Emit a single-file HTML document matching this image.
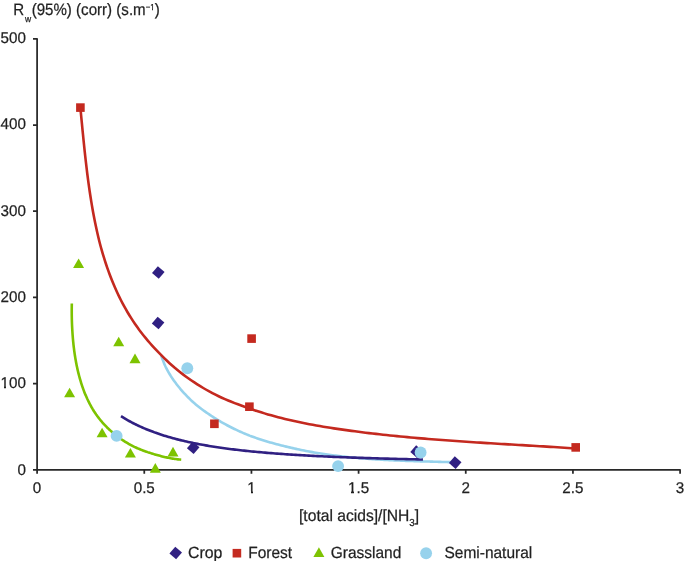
<!DOCTYPE html><html><head><meta charset="utf-8"><style>html,body{margin:0;padding:0;background:#fff;}svg{display:block;}text{font-family:"Liberation Sans",sans-serif;fill:#1e1e1e;text-rendering:geometricPrecision;will-change:transform;stroke:#1e1e1e;stroke-width:0.25px;}</style></head><body>
<svg width="685" height="561" viewBox="0 0 685 561">
<rect width="685" height="561" fill="#fff"/>
<g opacity="0.99">
<text transform="translate(13.20 14.60) scale(0.915 1)" font-size="16.50" text-anchor="start">R<tspan font-size="9.30" dx="1.00" dy="6.90">w</tspan><tspan dx="0.50" dy="-6.90">(95%) (corr) (s.m</tspan><tspan font-size="8.60" dy="-4.30">&#8722;1</tspan><tspan dy="4.30">)</tspan></text>
<path d="M33.00,38.80 H37.10 V469.80 H680.09 V473.70" stroke="#262626" stroke-width="1.75" fill="none" stroke-linecap="butt" stroke-linejoin="round"/>
<path d="M33.00,469.80 H37.10 M33.00,383.60 H37.10 M33.00,297.40 H37.10 M33.00,211.20 H37.10 M33.00,125.00 H37.10 M37.10,469.80 V473.70 M144.27,469.80 V473.70 M251.43,469.80 V473.70 M358.60,469.80 V473.70 M465.76,469.80 V473.70 M572.93,469.80 V473.70 " stroke="#262626" stroke-width="1.75" fill="none" stroke-linecap="butt"/>
<text transform="translate(25.90 475.00) scale(0.980 1)" font-size="15.50" text-anchor="end">0</text>
<text transform="translate(25.90 388.00) scale(0.980 1)" font-size="15.50" text-anchor="end">100</text>
<text transform="translate(25.90 302.00) scale(0.980 1)" font-size="15.50" text-anchor="end">200</text>
<text transform="translate(25.90 216.00) scale(0.980 1)" font-size="15.50" text-anchor="end">300</text>
<text transform="translate(25.90 129.00) scale(0.980 1)" font-size="15.50" text-anchor="end">400</text>
<text transform="translate(25.90 43.00) scale(0.980 1)" font-size="15.50" text-anchor="end">500</text>
<text transform="translate(37.10 493.00) scale(0.980 1)" font-size="15.50" text-anchor="middle">0</text>
<text transform="translate(144.27 493.00) scale(0.980 1)" font-size="15.50" text-anchor="middle">0.5</text>
<text transform="translate(251.43 493.00) scale(0.980 1)" font-size="15.50" text-anchor="middle">1</text>
<text transform="translate(358.60 493.00) scale(0.980 1)" font-size="15.50" text-anchor="middle">1.5</text>
<text transform="translate(465.76 493.00) scale(0.980 1)" font-size="15.50" text-anchor="middle">2</text>
<text transform="translate(572.93 493.00) scale(0.980 1)" font-size="15.50" text-anchor="middle">2.5</text>
<text transform="translate(680.09 493.00) scale(0.980 1)" font-size="15.50" text-anchor="middle">3</text>
<text transform="translate(299.00 521.20) scale(0.960 1)" font-size="16.30" text-anchor="start">[total acids]/[NH<tspan font-size="10.20" dy="4.40">3</tspan><tspan dy="-4.40">]</tspan></text>
</g>
<path d="M161.24,355.71 L161.83,357.37 L162.43,359.02 L163.05,360.66 L163.68,362.27 L164.34,363.90 L165.01,365.49 L165.75,367.04 L166.56,368.57 L167.36,370.07 L168.18,371.56 L169.02,373.04 L169.89,374.50 L170.76,375.95 L171.68,377.36 L172.62,378.76 L173.58,380.13 L174.56,381.50 L175.55,382.84 L176.55,384.16 L177.57,385.47 L178.61,386.77 L179.65,388.05 L180.71,389.33 L181.80,390.58 L182.88,391.81 L183.98,393.03 L185.10,394.24 L186.23,395.43 L187.37,396.61 L188.54,397.77 L189.70,398.92 L190.88,400.06 L192.09,401.18 L193.28,402.28 L194.51,403.37 L195.76,404.42 L197.02,405.46 L198.29,406.48 L199.58,407.49 L200.87,408.48 L202.18,409.47 L203.50,410.43 L204.83,411.39 L206.16,412.33 L207.50,413.25 L208.86,414.17 L210.22,415.08 L211.58,415.99 L212.93,416.89 L214.31,417.79 L215.69,418.66 L217.09,419.52 L218.48,420.38 L219.90,421.22 L221.32,422.05 L222.73,422.86 L224.17,423.66 L225.62,424.45 L227.06,425.24 L228.52,426.01 L229.99,426.77 L231.45,427.51 L232.93,428.24 L234.41,428.97 L235.91,429.68 L237.41,430.38 L238.91,431.07 L240.42,431.75 L241.93,432.43 L243.46,433.09 L244.99,433.74 L246.52,434.37 L248.06,435.00 L249.60,435.62 L251.16,436.20 L252.73,436.77 L254.29,437.31 L255.86,437.86 L257.44,438.40 L259.02,438.92 L260.61,439.44 L262.19,439.95 L263.77,440.44 L265.37,440.94 L266.96,441.43 L268.56,441.91 L270.16,442.38 L271.76,442.85 L273.36,443.29 L274.96,443.74 L276.57,444.19 L278.18,444.61 L279.80,445.03 L281.40,445.44 L283.03,445.85 L284.65,446.24 L286.28,446.63 L287.89,447.00 L289.53,447.38 L291.15,447.76 L292.78,448.14 L294.40,448.51 L296.03,448.88 L297.67,449.24 L299.30,449.59 L300.94,449.93 L302.58,450.27 L304.22,450.60 L305.86,450.92 L307.51,451.24 L309.15,451.55 L310.80,451.85 L312.45,452.15 L314.10,452.44 L315.76,452.72 L317.41,453.00 L319.07,453.27 L320.73,453.53 L322.39,453.79 L324.05,454.04 L325.71,454.29 L327.37,454.53 L329.04,454.77 L330.70,454.99 L332.37,455.22 L334.03,455.44 L335.70,455.65 L337.37,455.86 L339.04,456.06 L340.71,456.26 L342.39,456.45 L344.06,456.63 L345.73,456.82 L347.41,456.99 L349.08,457.17 L350.76,457.33 L352.43,457.50 L354.11,457.66 L355.78,457.81 L357.46,457.96 L359.14,458.11 L360.81,458.25 L362.49,458.39 L364.17,458.52 L365.84,458.65 L367.52,458.78 L369.20,458.90 L370.87,459.02 L372.55,459.13 L374.23,459.25 L375.90,459.35 L377.58,459.46 L379.25,459.56 L380.93,459.66 L382.60,459.76 L384.27,459.85 L385.95,459.94 L387.62,460.03 L389.29,460.11 L390.96,460.19 L392.63,460.27 L394.30,460.35 L395.97,460.43 L397.64,460.50 L399.30,460.57 L400.97,460.64 L402.63,460.71 L404.29,460.77 L405.95,460.83 L407.61,460.89 L409.27,460.95 L410.93,461.01 L412.59,461.07 L414.24,461.12 L415.89,461.18 L417.54,461.23 L419.19,461.28 L420.84,461.33 L422.48,461.38 L424.13,461.43 L425.77,461.48 L427.41,461.53 L429.05,461.57 L430.68,461.62 L432.32,461.66 L433.95,461.71 L435.58,461.75 L437.21,461.80 L438.83,461.84 L440.45,461.89 L442.07,461.93 L443.69,461.98 L445.30,462.02 L446.92,462.07 L448.53,462.11 L450.13,462.16 L451.74,462.21 L453.34,462.26 L454.94,462.30" stroke="#96d2ec" stroke-width="2.60" fill="none" stroke-linecap="butt" stroke-linejoin="round"/>
<path d="M80.36,107.65 L80.68,110.98 L81.01,114.32 L81.33,117.68 L81.66,121.06 L81.99,124.45 L82.32,127.86 L82.66,131.28 L83.00,134.72 L83.34,138.17 L83.69,141.64 L84.05,145.11 L84.41,148.59 L84.78,152.09 L85.16,155.59 L85.55,159.11 L85.96,162.62 L86.37,166.15 L86.79,169.68 L87.22,173.22 L87.67,176.76 L88.14,180.30 L88.62,183.85 L89.11,187.40 L89.63,190.95 L90.16,194.50 L90.71,198.05 L91.28,201.60 L91.87,205.14 L92.48,208.68 L93.11,212.22 L93.77,215.75 L94.45,219.28 L95.15,222.81 L95.89,226.32 L96.64,229.83 L97.42,233.33 L98.23,236.83 L99.07,240.30 L99.96,243.76 L100.90,247.22 L101.86,250.65 L102.86,254.07 L103.89,257.48 L104.96,260.86 L106.06,264.24 L107.20,267.60 L108.37,270.93 L109.59,274.26 L110.84,277.55 L112.13,280.83 L113.48,284.09 L114.87,287.32 L116.30,290.52 L117.77,293.70 L119.28,296.86 L120.84,299.99 L122.45,303.10 L124.10,306.17 L125.81,309.22 L127.55,312.23 L129.36,315.23 L131.21,318.18 L133.11,321.10 L135.05,323.99 L137.05,326.85 L139.09,329.68 L141.20,332.46 L143.35,335.20 L145.54,337.91 L147.78,340.59 L150.05,343.23 L152.36,345.84 L154.71,348.42 L157.10,350.96 L159.53,353.46 L161.99,355.94 L164.46,358.39 L166.97,360.81 L169.53,363.19 L172.13,365.53 L174.76,367.82 L177.46,370.04 L180.20,372.22 L182.96,374.35 L185.76,376.44 L188.60,378.48 L191.46,380.48 L194.36,382.42 L197.30,384.33 L200.25,386.18 L203.24,387.99 L206.26,389.75 L209.30,391.46 L212.38,393.10 L215.49,394.67 L218.63,396.21 L221.78,397.70 L224.96,399.13 L228.17,400.49 L231.40,401.81 L234.65,403.09 L237.93,404.32 L241.22,405.51 L244.51,406.66 L247.81,407.86 L251.11,409.03 L254.43,410.17 L257.77,411.27 L261.12,412.34 L264.48,413.38 L267.86,414.38 L271.26,415.35 L274.66,416.29 L278.08,417.20 L281.51,418.07 L284.96,418.93 L288.41,419.75 L291.87,420.55 L295.34,421.32 L298.81,422.06 L302.30,422.79 L305.79,423.49 L309.29,424.16 L312.79,424.82 L316.30,425.45 L319.81,426.07 L323.32,426.67 L326.84,427.25 L330.36,427.81 L333.87,428.35 L337.39,428.88 L340.91,429.40 L344.43,429.90 L347.95,430.39 L351.46,430.87 L354.97,431.33 L358.48,431.79 L361.99,432.23 L365.49,432.67 L368.99,433.09 L372.49,433.51 L375.99,433.91 L379.48,434.30 L382.97,434.69 L386.46,435.07 L389.95,435.43 L393.44,435.79 L396.93,436.14 L400.41,436.49 L403.89,436.82 L407.37,437.15 L410.85,437.47 L414.33,437.78 L417.81,438.08 L421.29,438.38 L424.76,438.67 L428.24,438.96 L431.71,439.24 L435.19,439.51 L438.66,439.78 L442.13,440.05 L445.61,440.30 L449.08,440.56 L452.56,440.80 L456.03,441.05 L459.50,441.29 L462.98,441.53 L466.45,441.76 L469.93,441.99 L473.41,442.21 L476.88,442.44 L480.36,442.66 L483.84,442.87 L487.32,443.09 L490.80,443.30 L494.29,443.51 L497.77,443.72 L501.26,443.93 L504.75,444.14 L508.23,444.35 L511.73,444.55 L515.22,444.76 L518.71,444.96 L522.21,445.17 L525.71,445.37 L529.21,445.58 L532.72,445.79 L536.23,445.99 L539.74,446.20 L543.25,446.41 L546.77,446.63 L550.28,446.84 L553.81,447.06 L557.33,447.28 L560.86,447.50 L564.39,447.72 L567.93,447.95 L571.47,448.18 L575.01,448.41" stroke="#c4291f" stroke-width="2.60" fill="none" stroke-linecap="butt" stroke-linejoin="round"/>
<path d="M121.01,416.20 L122.21,416.96 L123.42,417.70 L124.64,418.43 L125.86,419.15 L127.09,419.86 L128.32,420.56 L129.56,421.24 L130.81,421.91 L132.06,422.58 L133.33,423.23 L134.59,423.87 L135.87,424.50 L137.15,425.13 L138.44,425.74 L139.73,426.34 L141.03,426.93 L142.34,427.51 L143.66,428.09 L144.98,428.65 L146.31,429.20 L147.65,429.75 L148.99,430.29 L150.34,430.81 L151.70,431.33 L153.06,431.84 L154.44,432.35 L155.82,432.84 L157.20,433.33 L158.60,433.81 L160.00,434.28 L161.41,434.74 L162.83,435.20 L164.25,435.64 L165.68,436.09 L167.12,436.52 L168.57,436.95 L170.02,437.37 L171.49,437.78 L172.96,438.19 L174.43,438.59 L175.92,438.98 L177.41,439.37 L178.92,439.75 L180.43,440.12 L181.94,440.49 L183.47,440.86 L185.00,441.21 L186.55,441.56 L188.10,441.91 L189.65,442.25 L191.22,442.58 L192.80,442.91 L194.38,443.24 L195.97,443.55 L197.57,443.87 L199.18,444.18 L200.80,444.48 L202.42,444.78 L204.06,445.07 L205.70,445.36 L207.35,445.64 L209.01,445.92 L210.68,446.20 L212.36,446.47 L214.05,446.74 L215.75,447.00 L217.45,447.25 L219.17,447.51 L220.89,447.76 L222.62,448.00 L224.36,448.24 L226.12,448.48 L227.88,448.72 L229.65,448.94 L231.43,449.17 L233.21,449.39 L235.01,449.61 L236.82,449.83 L238.64,450.04 L240.46,450.25 L242.30,450.45 L244.15,450.65 L246.00,450.85 L247.87,451.05 L249.75,451.24 L251.63,451.43 L253.53,451.62 L255.43,451.80 L257.35,451.98 L259.28,452.15 L261.21,452.33 L263.16,452.50 L265.12,452.67 L267.08,452.83 L269.06,453.00 L271.05,453.16 L273.05,453.32 L275.06,453.47 L277.08,453.62 L279.11,453.78 L281.15,453.92 L283.21,454.07 L285.27,454.21 L287.34,454.35 L289.43,454.49 L291.53,454.63 L293.63,454.76 L295.75,454.89 L297.88,455.02 L300.03,455.15 L302.18,455.28 L304.34,455.40 L306.52,455.52 L308.71,455.64 L310.91,455.76 L313.12,455.88 L315.34,455.99 L317.57,456.10 L319.82,456.21 L322.08,456.32 L324.35,456.43 L326.63,456.53 L328.92,456.64 L331.23,456.74 L333.55,456.84 L335.88,456.94 L338.22,457.03 L340.58,457.13 L342.95,457.22 L345.33,457.31 L347.72,457.40 L350.13,457.49 L352.55,457.58 L354.98,457.67 L357.43,457.75 L359.88,457.84 L362.35,457.92 L364.84,458.00 L367.34,458.08 L369.85,458.16 L372.37,458.24 L374.91,458.31 L377.46,458.39 L380.02,458.46 L382.60,458.53 L385.19,458.60 L387.80,458.67 L390.42,458.74 L393.05,458.81 L395.70,458.87 L398.36,458.94 L401.03,459.00 L403.72,459.07 L406.43,459.13 L409.15,459.19 L411.88,459.25 L414.62,459.31 L417.39,459.37 L420.16,459.43 L422.95,459.48" stroke="#302082" stroke-width="2.60" fill="none" stroke-linecap="butt" stroke-linejoin="round"/>
<path d="M71.83,303.51 L71.81,304.55 L71.79,305.60 L71.77,306.64 L71.76,307.69 L71.75,308.74 L71.74,309.79 L71.74,310.85 L71.74,311.91 L71.75,312.97 L71.75,314.03 L71.76,315.10 L71.78,316.16 L71.80,317.23 L71.82,318.30 L71.84,319.37 L71.87,320.45 L71.90,321.52 L71.94,322.60 L71.98,323.68 L72.02,324.76 L72.07,325.83 L72.13,326.92 L72.18,328.00 L72.24,329.09 L72.31,330.17 L72.37,331.26 L72.44,332.34 L72.51,333.43 L72.58,334.52 L72.67,335.61 L72.75,336.70 L72.84,337.79 L72.93,338.88 L73.02,339.97 L73.12,341.05 L73.23,342.14 L73.34,343.23 L73.45,344.32 L73.57,345.41 L73.70,346.50 L73.83,347.59 L73.97,348.67 L74.10,349.76 L74.24,350.84 L74.39,351.93 L74.54,353.02 L74.70,354.10 L74.87,355.18 L75.04,356.26 L75.21,357.34 L75.39,358.43 L75.57,359.51 L75.77,360.58 L75.96,361.66 L76.16,362.73 L76.36,363.80 L76.57,364.88 L76.79,365.94 L77.01,367.02 L77.24,368.08 L77.47,369.14 L77.71,370.21 L77.96,371.26 L78.22,372.33 L78.48,373.38 L78.75,374.43 L79.02,375.48 L79.30,376.53 L79.59,377.58 L79.88,378.61 L80.18,379.65 L80.48,380.69 L80.79,381.73 L81.11,382.77 L81.44,383.79 L81.77,384.82 L82.11,385.84 L82.45,386.85 L82.81,387.88 L83.16,388.89 L83.53,389.90 L83.90,390.90 L84.29,391.91 L84.68,392.90 L85.09,393.89 L85.51,394.88 L85.93,395.86 L86.36,396.83 L86.80,397.80 L87.24,398.78 L87.70,399.74 L88.16,400.70 L88.63,401.66 L89.11,402.61 L89.59,403.56 L90.08,404.49 L90.59,405.43 L91.09,406.36 L91.61,407.29 L92.15,408.21 L92.67,409.13 L93.22,410.04 L93.78,410.94 L94.34,411.84 L94.94,412.72 L95.53,413.59 L96.14,414.47 L96.76,415.32 L97.38,416.18 L98.01,417.03 L98.66,417.88 L99.32,418.71 L99.97,419.54 L100.64,420.37 L101.33,421.18 L102.01,421.99 L102.71,422.80 L103.42,423.59 L104.14,424.38 L104.87,425.15 L105.61,425.93 L106.36,426.69 L107.10,427.45 L107.88,428.20 L108.64,428.94 L109.43,429.68 L110.22,430.41 L111.02,431.13 L111.82,431.84 L112.62,432.55 L113.45,433.25 L114.28,433.94 L115.11,434.61 L115.95,435.30 L116.81,435.96 L117.67,436.62 L118.53,437.26 L119.40,437.91 L120.29,438.55 L121.17,439.17 L122.07,439.78 L122.99,440.37 L123.90,440.96 L124.82,441.54 L125.76,442.11 L126.69,442.66 L127.64,443.22 L128.58,443.76 L129.53,444.29 L130.49,444.82 L131.46,445.34 L132.42,445.85 L133.39,446.34 L134.37,446.84 L135.36,447.30 L136.35,447.75 L137.36,448.20 L138.37,448.63 L139.38,449.05 L140.39,449.47 L141.41,449.87 L142.43,450.27 L143.46,450.66 L144.48,451.04 L145.51,451.40 L146.54,451.76 L147.58,452.12 L148.62,452.45 L149.66,452.79 L150.69,453.12 L151.73,453.47 L152.76,453.80 L153.80,454.12 L154.85,454.44 L155.90,454.74 L156.94,455.03 L157.99,455.32 L159.03,455.59 L160.09,455.86 L161.14,456.14 L162.19,456.41 L163.24,456.67 L164.29,456.92 L165.34,457.16 L166.40,457.39 L167.45,457.62 L168.51,457.83 L169.57,458.04 L170.63,458.23 L171.68,458.42 L172.74,458.60 L173.80,458.76 L174.86,458.92 L175.92,459.07 L176.98,459.21 L178.04,459.34 L179.09,459.46 L180.15,459.57 L181.21,459.67" stroke="#7dc300" stroke-width="2.60" fill="none" stroke-linecap="butt" stroke-linejoin="round"/>
<path d="M158.30,266.20 L164.60,272.50 L158.30,278.80 L152.00,272.50 Z" fill="#302082" transform="rotate(-4.00 158.30 272.50)"/>
<path d="M158.10,316.70 L164.40,323.00 L158.10,329.30 L151.80,323.00 Z" fill="#302082" transform="rotate(-4.00 158.10 323.00)"/>
<path d="M193.20,441.50 L199.50,447.80 L193.20,454.10 L186.90,447.80 Z" fill="#302082" transform="rotate(-4.00 193.20 447.80)"/>
<path d="M416.60,445.30 L422.90,451.60 L416.60,457.90 L410.30,451.60 Z" fill="#302082" transform="rotate(-4.00 416.60 451.60)"/>
<path d="M455.20,456.30 L461.50,462.60 L455.20,468.90 L448.90,462.60 Z" fill="#302082" transform="rotate(-4.00 455.20 462.60)"/>
<rect x="76.10" y="103.30" width="8.60" height="8.60" fill="#c4291f"/>
<rect x="247.30" y="334.30" width="8.60" height="8.60" fill="#c4291f"/>
<rect x="245.10" y="402.40" width="8.60" height="8.60" fill="#c4291f"/>
<rect x="210.10" y="419.50" width="8.60" height="8.60" fill="#c4291f"/>
<rect x="571.40" y="443.10" width="8.60" height="8.60" fill="#c4291f"/>
<path d="M78.60,258.40 L84.10,268.00 L73.10,268.00 Z" fill="#7dc300"/>
<path d="M118.70,336.70 L124.20,346.30 L113.20,346.30 Z" fill="#7dc300"/>
<path d="M135.00,353.60 L140.50,363.20 L129.50,363.20 Z" fill="#7dc300"/>
<path d="M69.60,387.70 L75.10,397.30 L64.10,397.30 Z" fill="#7dc300"/>
<path d="M102.10,427.70 L107.60,437.30 L96.60,437.30 Z" fill="#7dc300"/>
<path d="M130.40,447.90 L135.90,457.50 L124.90,457.50 Z" fill="#7dc300"/>
<path d="M173.00,446.80 L178.50,456.40 L167.50,456.40 Z" fill="#7dc300"/>
<path d="M155.30,463.10 L160.80,472.70 L149.80,472.70 Z" fill="#7dc300"/>
<circle cx="187.30" cy="368.20" r="5.95" fill="#96d2ec"/>
<circle cx="116.60" cy="435.90" r="5.95" fill="#96d2ec"/>
<circle cx="338.10" cy="466.10" r="5.95" fill="#96d2ec"/>
<circle cx="420.60" cy="452.50" r="5.95" fill="#96d2ec"/>
<g opacity="0.99">
<path d="M175.70,546.70 L182.00,553.00 L175.70,559.30 L169.40,553.00 Z" fill="#302082" transform="rotate(-4.00 175.70 553.00)"/>
<rect x="232.60" y="548.90" width="8.60" height="8.60" fill="#c4291f"/>
<path d="M318.90,547.30 L324.40,556.90 L313.40,556.90 Z" fill="#7dc300"/>
<circle cx="426.10" cy="553.30" r="5.95" fill="#96d2ec"/>
<text transform="translate(188.00 557.60) scale(0.975 1)" font-size="16.30" text-anchor="start">Crop</text>
<text transform="translate(248.30 557.60) scale(0.950 1)" font-size="16.30" text-anchor="start">Forest</text>
<text transform="translate(330.80 557.60) scale(0.950 1)" font-size="16.30" text-anchor="start">Grassland</text>
<text transform="translate(444.50 557.60) scale(0.950 1)" font-size="16.30" text-anchor="start">Semi-natural</text>
</g>
<rect x="150" y="9" width="2" height="2" fill="#fff"/>
<rect x="153" y="9" width="2" height="2" fill="#fff"/>
<rect x="1" y="386" width="3" height="3" fill="#fff"/>
<rect x="6" y="386" width="3" height="3" fill="#fff"/>
<rect x="247" y="491" width="4" height="3" fill="#fff"/>
<rect x="253" y="491" width="3" height="3" fill="#fff"/>
<rect x="348" y="491" width="3" height="3" fill="#fff"/>
<rect x="354" y="491" width="3" height="3" fill="#fff"/>
</svg></body></html>
